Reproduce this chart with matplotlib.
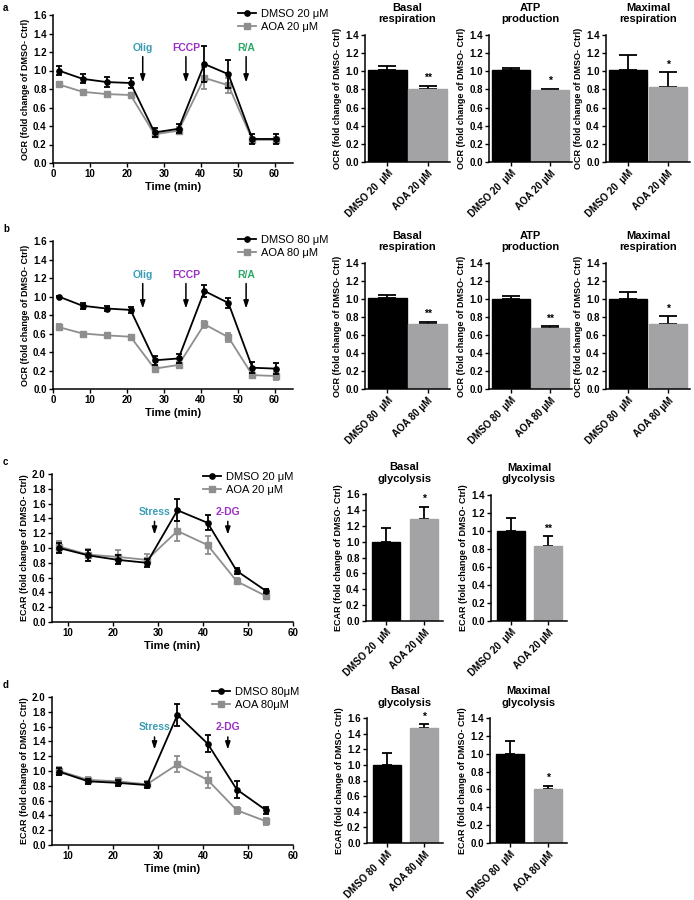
import matplotlib
matplotlib.use("Agg")
import matplotlib.pyplot as plt
from matplotlib.lines import Line2D

plt.rcParams["font.family"] = ["Liberation Sans", "DejaVu Sans"]
plt.rcParams["font.weight"] = "bold"

W, H = 694, 900

# --- OCR time courses (a, b) ---
t_ocr = [1.5, 8, 14.5, 21, 27.5, 34, 41, 47.5, 54, 60.5]
dmso20_ocr = [1.0, 0.91, 0.875, 0.865, 0.33, 0.37, 1.07, 0.96, 0.26, 0.26]
dmso20_ocr_err = [0.05, 0.05, 0.05, 0.05, 0.05, 0.05, 0.19, 0.15, 0.05, 0.05]
aoa20_ocr = [0.85, 0.77, 0.745, 0.735, 0.31, 0.35, 0.92, 0.84, 0.25, 0.25]
aoa20_ocr_err = [0.03, 0.02, 0.02, 0.02, 0.03, 0.04, 0.12, 0.08, 0.03, 0.03]

dmso80_ocr = [1.0, 0.90, 0.87, 0.855, 0.31, 0.33, 1.06, 0.93, 0.23, 0.22]
dmso80_ocr_err = [0.01, 0.03, 0.03, 0.03, 0.05, 0.05, 0.06, 0.05, 0.06, 0.06]
aoa80_ocr = [0.67, 0.60, 0.58, 0.565, 0.22, 0.26, 0.70, 0.56, 0.15, 0.14]
aoa80_ocr_err = [0.03, 0.02, 0.02, 0.02, 0.03, 0.03, 0.04, 0.05, 0.03, 0.04]

# --- ECAR time courses (c, d) ---
t_ecar = [8, 14.5, 21, 27.5, 34.3, 41, 47.5, 54]
dmso20_ecar = [1.0, 0.90, 0.84, 0.80, 1.51, 1.34, 0.69, 0.42]
dmso20_ecar_err = [0.07, 0.07, 0.06, 0.05, 0.15, 0.10, 0.04, 0.03]
aoa20_ecar = [1.02, 0.91, 0.88, 0.84, 1.23, 1.04, 0.55, 0.35]
aoa20_ecar_err = [0.07, 0.08, 0.09, 0.08, 0.14, 0.12, 0.04, 0.03]

dmso80_ecar = [0.99, 0.86, 0.84, 0.81, 1.76, 1.37, 0.75, 0.47]
dmso80_ecar_err = [0.05, 0.03, 0.04, 0.04, 0.15, 0.11, 0.11, 0.05]
aoa80_ecar = [1.0, 0.88, 0.86, 0.82, 1.09, 0.88, 0.47, 0.32]
aoa80_ecar_err = [0.06, 0.04, 0.04, 0.04, 0.11, 0.11, 0.05, 0.05]

# --- bar summaries: (DMSO, AOA), errors, significance ---
bar_a_titles = ["Basal\nrespiration", "ATP\nproduction", "Maximal\nrespiration"]
bar_a_vals = [[1.01, 0.80], [1.01, 0.79], [1.01, 0.83]]
bar_a_err = [[0.05, 0.04], [0.03, 0.015], [0.17, 0.16]]
bar_a_sig = ["**", "*", "*"]

bar_b_vals = [[1.01, 0.72], [1.00, 0.68], [1.00, 0.72]]
bar_b_err = [[0.04, 0.03], [0.03, 0.015], [0.08, 0.09]]
bar_b_sig = ["**", "**", "*"]

bar_c_titles = ["Basal\nglycolysis", "Maximal\nglycolysis"]
bar_c_vals = [[1.00, 1.28], [1.00, 0.83]]
bar_c_err = [[0.17, 0.16], [0.14, 0.11]]
bar_c_sig = ["*", "**"]

bar_d_vals = [[1.00, 1.47], [1.00, 0.60]]
bar_d_err = [[0.15, 0.05], [0.14, 0.04]]
bar_d_sig = ["*", "*"]

GRAY = "#8e8e8e"
BAR_GRAY = "#a3a3a5"
TEAL = "#3a9db5"
PURPLE = "#9a2fc4"
GREEN = "#2aa866"
TICK_FS = 7
LAB_FS = 6.5

fig = plt.figure(figsize=(W / 100, H / 100), dpi=100)


def px_axes(x0, x1, ytop, ybot):
    return fig.add_axes([x0 / W, 1 - ybot / H, (x1 - x0) / W, (ybot - ytop) / H])


def style(ax):
    for s in ("top", "right"):
        ax.spines[s].set_visible(False)
    for s in ("left", "bottom"):
        ax.spines[s].set_linewidth(1.1)
    ax.tick_params(direction="out", length=3, width=1, labelsize=TICK_FS, pad=1.5)
    for lab in ax.get_xticklabels() + ax.get_yticklabels():
        lab.set_fontweight("bold")


def line_panel(ax, t, d, de, a, ae, ymax, xlim, xticks, ylabel):
    ax.errorbar(t, a, yerr=ae, color=GRAY, marker="s", ms=3.8, lw=1.3,
                capsize=2.5, elinewidth=1.3, capthick=1.3, zorder=2)
    ax.errorbar(t, d, yerr=de, color="black", marker="o", ms=3.8, lw=1.3,
                capsize=2.5, elinewidth=1.3, capthick=1.3, zorder=3)
    ax.set_xlim(*xlim)
    ax.set_ylim(0, ymax)
    ax.set_xticks(xticks)
    ticks = [i / 10 for i in range(0, int(round(ymax * 10)) + 1, 2)]
    ax.set_yticks(ticks)
    ax.set_yticklabels([f"{v:.1f}" for v in ticks])
    ax.set_ylabel(ylabel, fontsize=LAB_FS, fontweight="bold", labelpad=2)
    ax.set_xlabel("Time (min)", fontsize=8, fontweight="bold", labelpad=2)
    style(ax)


def arrow(ax, x, ytop, ybot, text, color, ytext):
    ax.annotate("", xy=(x, ybot), xytext=(x, ytop),
                arrowprops=dict(arrowstyle="-|>,head_width=0.15,head_length=0.45",
                                color="black", lw=1.1, shrinkA=0, shrinkB=0))
    ax.text(x, ytext, text, color=color, fontsize=7.5, fontweight="bold",
            ha="center", va="center")


def legend(ax, labels, x, y):
    handles = [Line2D([], [], color="black", marker="o", ms=3.8, lw=1.3),
               Line2D([], [], color=GRAY, marker="s", ms=3.8, lw=1.3)]
    leg = ax.legend(handles, labels, loc="upper left",
                    bbox_to_anchor=(x / W, 1 - y / H), bbox_transform=fig.transFigure,
                    frameon=False, fontsize=8, handlelength=1.6, handletextpad=0.5,
                    labelspacing=0.3, borderaxespad=0, borderpad=0)
    for txt in leg.get_texts():
        txt.set_fontweight("normal")


def bar_panel(ax, vals, err, sig, title, ymax, labels, width, cap, xlim, ylabel):
    colors = ["black", BAR_GRAY]
    ax.bar([0, 1], vals, width=width, color=colors, edgecolor=colors, zorder=2)
    ax.errorbar([0, 1], vals, yerr=[[0, 0], err], fmt="none", ecolor="black",
                elinewidth=1.3, capsize=cap, capthick=1.3, zorder=1)
    ax.text(1, vals[1] + err[1] + 0.03 * ymax / 1.4, sig, ha="center", va="bottom",
            fontsize=7.5, fontweight="bold")
    ax.set_xlim(*xlim)
    ax.set_ylim(0, ymax)
    ticks = [i / 10 for i in range(0, int(round(ymax * 10)) + 1, 2)]
    ax.set_yticks(ticks)
    ax.set_yticklabels([f"{v:.1f}" for v in ticks])
    ax.set_xticks([0, 1])
    ax.set_xticklabels(labels, rotation=45, ha="right", rotation_mode="anchor")
    ax.set_title(title, fontsize=8, fontweight="bold", pad=9, linespacing=1.15)
    ax.set_ylabel(ylabel, fontsize=LAB_FS, fontweight="bold", labelpad=2)
    style(ax)


OCR_LAB = "OCR (fold change of DMSO- Ctrl)"
ECAR_LAB = "ECAR (fold change of DMSO- Ctrl)"

# ---------------- panel a ----------------
ax = px_axes(53, 293, 15, 163)
line_panel(ax, t_ocr, dmso20_ocr, dmso20_ocr_err, aoa20_ocr, aoa20_ocr_err,
           1.6, (0, 65), [0, 10, 20, 30, 40, 50, 60], OCR_LAB)
arrow(ax, 24.3, 1.15, 0.87, "Olig", TEAL, 1.24)
arrow(ax, 36, 1.15, 0.87, "FCCP", PURPLE, 1.24)
arrow(ax, 52.3, 1.15, 0.87, "R/A", GREEN, 1.24)
legend(ax, ["DMSO 20 μM", "AOA 20 μM"], 238, 9)

bar_x = [(365, 450), (489, 572), (606, 690)]
lab20 = ["DMSO 20  μM", "AOA 20 μM"]
lab80 = ["DMSO 80  μM", "AOA 80 μM"]
for i, (x0, x1) in enumerate(bar_x):
    bx = px_axes(x0, x1, 35, 162)
    bar_panel(bx, bar_a_vals[i], bar_a_err[i], bar_a_sig[i], bar_a_titles[i], 1.4,
              lab20, 0.96, 6.5, (-0.56, 1.56), OCR_LAB)

# ---------------- panel b ----------------
ax = px_axes(53, 293, 241, 389)
line_panel(ax, t_ocr, dmso80_ocr, dmso80_ocr_err, aoa80_ocr, aoa80_ocr_err,
           1.6, (0, 65), [0, 10, 20, 30, 40, 50, 60], OCR_LAB)
arrow(ax, 24.3, 1.14, 0.87, "Olig", TEAL, 1.23)
arrow(ax, 36, 1.14, 0.87, "FCCP", PURPLE, 1.23)
arrow(ax, 52.3, 1.14, 0.87, "R/A", GREEN, 1.23)
legend(ax, ["DMSO 80 μM", "AOA 80 μM"], 238, 235)

for i, (x0, x1) in enumerate(bar_x):
    bx = px_axes(x0, x1, 263, 389)
    bar_panel(bx, bar_b_vals[i], bar_b_err[i], bar_b_sig[i], bar_a_titles[i], 1.4,
              lab80, 0.96, 6.5, (-0.56, 1.56), OCR_LAB)

# ---------------- panel c ----------------
ax = px_axes(52, 293, 474, 622)
line_panel(ax, t_ecar, dmso20_ecar, dmso20_ecar_err, aoa20_ecar, aoa20_ecar_err,
           2.0, (6.4, 60), [10, 20, 30, 40, 50, 60], ECAR_LAB)
arrow(ax, 29.2, 1.36, 1.18, "Stress", TEAL, 1.49)
arrow(ax, 45.5, 1.36, 1.18, "2-DG", PURPLE, 1.49)
legend(ax, ["DMSO 20 μM", "AOA 20 μM"], 203, 472)

bar_cx = [(366, 443), (491, 567)]
c_ymax = [1.6, 1.4]
for i, (x0, x1) in enumerate(bar_cx):
    bx = px_axes(x0, x1, 494 if i == 0 else 495, 621)
    bar_panel(bx, bar_c_vals[i], bar_c_err[i], bar_c_sig[i], bar_c_titles[i], c_ymax[i],
              lab20, 0.74, 3.8, (-0.53, 1.5), ECAR_LAB)

# ---------------- panel d ----------------
ax = px_axes(52, 293, 697, 845)
line_panel(ax, t_ecar, dmso80_ecar, dmso80_ecar_err, aoa80_ecar, aoa80_ecar_err,
           2.0, (6.4, 60), [10, 20, 30, 40, 50, 60], ECAR_LAB)
arrow(ax, 29.2, 1.46, 1.29, "Stress", TEAL, 1.6)
arrow(ax, 45.5, 1.46, 1.29, "2-DG", PURPLE, 1.6)
legend(ax, ["DMSO 80μM", "AOA 80μM"], 212, 687)

for i, (x0, x1) in enumerate(bar_cx):
    bx = px_axes(x0 + 1 if i == 0 else x0 - 1, x1, 718, 843)
    bar_panel(bx, bar_d_vals[i], bar_d_err[i], bar_d_sig[i], bar_c_titles[i], c_ymax[i],
              lab80, 0.74, 3.8, (-0.53, 1.5), ECAR_LAB)

# panel letters
for letter, y in [("a", 8), ("b", 229), ("c", 462), ("d", 685)]:
    fig.text(3 / W, 1 - y / H, letter, fontsize=7, fontweight="bold", va="center")

fig.savefig("out.png", dpi=100)
